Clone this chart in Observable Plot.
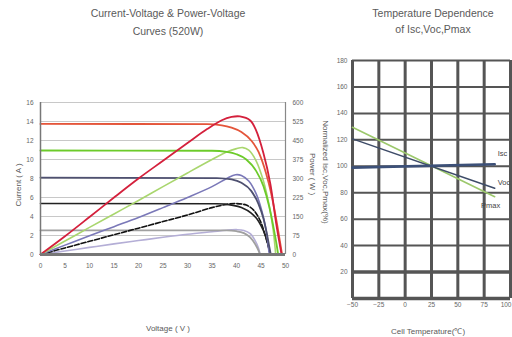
<!DOCTYPE html>
<html><head><meta charset="utf-8">
<script src="https://cdn.jsdelivr.net/npm/d3@7"></script>
<script src="https://cdn.jsdelivr.net/npm/@observablehq/plot@0.6"></script>
<style>
body{margin:0;background:#fff;}
#wrap{position:relative;width:512px;height:337px;overflow:hidden;font-family:"Liberation Sans",Arial,sans-serif;color:#5a5a5a;}
.t{position:absolute;white-space:nowrap;transform-origin:center center;}
#left,#right{position:absolute;top:0;}
#left{left:0;z-index:2}
#right{left:300px;z-index:1}
</style></head><body>
<div id="wrap">
  <div id="left"></div>
  <div id="right"></div>
  <div class="t" style="left:168px;top:13px;font-size:10.5px;transform:translate(-50%,-50%)">Current-Voltage &amp; Power-Voltage</div>
  <div class="t" style="left:168px;top:31px;font-size:10.5px;transform:translate(-50%,-50%)">Curves (520W)</div>
  <div class="t" style="left:433px;top:13px;font-size:10.5px;transform:translate(-50%,-50%)">Temperature Dependence</div>
  <div class="t" style="left:433px;top:29px;font-size:10.5px;transform:translate(-50%,-50%)">of Isc,Voc,Pmax</div>
  <div class="t" style="left:168px;top:328px;font-size:8px;transform:translate(-50%,-50%)">Voltage ( V )</div>
  <div class="t" style="left:18px;top:185px;font-size:8px;transform:translate(-50%,-50%) rotate(-90deg)">Current ( A )</div>
  <div class="t" style="left:312px;top:174px;font-size:8px;z-index:3;transform:translate(-50%,-50%) rotate(90deg)">Power ( W )</div>
  <div class="t" style="left:325px;top:172px;font-size:8px;z-index:3;transform:translate(-50%,-50%) rotate(90deg)">Normalized Isc,Voc,Pmax(%)</div>
  <div class="t" style="left:428px;top:330px;font-size:8px;transform:translate(-50%,-50%)">Cell Temperature(℃)</div>
</div>
<script>
// ---------- Left chart data ----------
const voltTicks = [0,5,10,15,20,25,30,35,40,45,50];
const currentTicks = [0,2,4,6,8,10,12,14,16];
const powerTicks = [0,75,150,225,300,375,450,525,600];

const ivRed = [[0,13.75],[34,13.72],[37,13.6],[39,13.35],[41,12.9],[43,12],[44.5,10.8],[46,8.6],[47,6.6],[48,4],[48.8,1.6],[49.3,0]];
const pvRed = [[0,0],[5,72],[10,148],[15,225],[20,300],[25,370],[30,440],[34,495],[37,530],[39,543],[40.7,545],[42.8,529],[44,490],[45.5,400],[46.9,280],[48.1,122],[49.2,0]];
const ivGreen = [[0,10.95],[35,10.92],[38,10.8],[40,10.55],[42,10],[44,8.8],[45.5,7.2],[46.7,5],[47.5,3],[48.2,1],[48.5,0]];
const pvGreen = [[0,0],[5,53],[10,107],[15,160],[20,213],[25,268],[30,322],[35,375],[38,405],[40,418],[41.3,422],[42.5,412],[44,370],[45.5,290],[46.7,190],[47.5,95],[48,0]];
const ivPurple = [[0,8.1],[36,8.05],[39,7.9],[41,7.55],[43,6.7],[44.5,5.3],[45.5,3.8],[46.2,2.2],[46.7,0.8],[47,0]];
const pvPurple = [[0,0],[5,37],[10,74],[15,110],[20,146],[25,185],[30,225],[35,268],[38,300],[39.8,315],[41,312],[42.5,290],[44,240],[45.2,170],[46,100],[46.7,0]];
const ivBlack = [[0,5.37],[36,5.34],[39,5.2],[41,4.95],[43,4.35],[44.5,3.5],[45.5,2.5],[46.3,1.3],[46.9,0]];
const pvBlack = [[0,0],[5,26],[10,52],[15,78],[20,104],[25,130],[30,156],[35,185],[38,198],[40,201],[42,195],[43.5,175],[44.8,135],[45.8,80],[46.5,30],[46.9,0]];
const ivGray = [[0,2.55],[38,2.53],[40,2.45],[41.5,2.25],[42.8,1.8],[43.8,1.1],[44.5,0.4],[44.8,0]];
const pvGray = [[0,0],[5,14],[10,28],[15,42],[20,55],[25,68],[30,80],[35,90],[38,96],[40,98],[41.5,95],[42.8,82],[43.8,55],[44.5,25],[44.8,0]];

// ---------- Right chart data ----------
const tempTicks = [-50,-25,0,25,50,75,100];
const normTicks = [20,40,60,80,100,120,140,160,180];
const normGrid = [0,20,40,60,80,100,120,140,160,180];
const tempEnds = [-50,85];
const iscVals = [99,101.5];
const vocVals = [120.7,83.4];
const pmaxVals = [129.5,77];
const seriesNames = ["Isc","Voc","Pmax"];

const font = "Liberation Sans, Arial, sans-serif";
const P2A = 16/600; // right axis (W) to left axis (A)

function ivLine(data, color, w=1.6, dash=null) {
  return Plot.line(data, {x: d=>d[0], y: d=>d[1], stroke: color, strokeWidth: w, strokeDasharray: dash, curve: "monotone-x"});
}
function pvLine(data, color, w=1.6, dash=null) {
  return Plot.line(data, {x: d=>d[0], y: d=>d[1]*P2A, stroke: color, strokeWidth: w, strokeDasharray: dash, curve: "catmull-rom"});
}

const left = Plot.plot({
  width: 330, height: 337,
  marginLeft: 40, marginRight: 45, marginTop: 102, marginBottom: 83,
  style: {fontSize: "6.5px", fontFamily: font, color: "#666", background: "transparent"},
  x: {domain: [0,50]},
  y: {domain: [0,16]},
  marks: [
    Plot.ruleY(currentTicks.filter(d=>d>0), {stroke: "#c8c8c8", strokeWidth: 1}),
    Plot.axisX({ticks: voltTicks, tickSize: 0, tickPadding: 9, label: null}),
    Plot.axisY({ticks: currentTicks, tickSize: 0, tickPadding: 7, label: null}),
    Plot.axisY({anchor: "right", ticks: currentTicks, tickSize: 0, tickPadding: 7, label: null,
      tickFormat: d => powerTicks[currentTicks.indexOf(d)]}),
    pvLine(pvGray, "#b4aed6", 1.6),
    ivLine(ivGray, "#a0a0a0", 1.8),
    pvLine(pvBlack, "#111", 1.6, "5,2"),
    ivLine(ivBlack, "#222", 1.6),
    pvLine(pvPurple, "#7a78b8", 1.6),
    ivLine(ivPurple, "#4e5070", 1.8),
    pvLine(pvGreen, "#a9d66e", 1.6),
    ivLine(ivGreen, "#6ccb2a", 1.8),
    ivLine(ivRed, "#e4553a", 1.8),
    pvLine(pvRed, "#d4203c", 1.8),
    Plot.ruleX([0], {stroke: "#777", strokeWidth: 1.5}),
    Plot.ruleX([50], {stroke: "#888", strokeWidth: 1.2}),
    Plot.ruleY([0], {stroke: "#777", strokeWidth: 3})
  ]
});
document.getElementById("left").appendChild(left);

const lineRows = (vals) => tempEnds.map((t,i)=>({t, v: vals[i]}));
const labelRows = [
  {name: seriesNames[0], t: tempEnds[1], v: iscVals[1], dx: 3, dy: -11, anchor: "start"},
  {name: seriesNames[1], t: tempEnds[1], v: vocVals[1], dx: 3, dy: -6, anchor: "start"},
  {name: seriesNames[2], t: tempEnds[1], v: pmaxVals[1], dx: -4, dy: 9, anchor: "middle"}
];

const right = Plot.plot({
  width: 212, height: 337,
  marginLeft: 52, marginRight: 2, marginTop: 60, marginBottom: 39,
  style: {fontSize: "6.5px", fontFamily: font, color: "#666", background: "transparent", overflow: "visible"},
  x: {domain: [-50,100]},
  y: {domain: [0,180]},
  marks: [
    Plot.ruleY(normGrid, {stroke: "#555", strokeWidth: 2}),
    Plot.ruleY([20,0], {stroke: "#555", strokeWidth: 3.5}),
    Plot.ruleX(tempTicks, {stroke: "#555", strokeWidth: 3}),
    Plot.axisX({ticks: tempTicks.slice(0,-1), tickSize: 0, tickPadding: 4, label: null}),
    Plot.axisX({ticks: tempTicks.slice(-1), tickSize: 0, tickPadding: 4, label: null, textAnchor: "end", dx: 1}),
    Plot.axisY({ticks: normTicks, tickSize: 0, tickPadding: 5, label: null}),
    Plot.line(lineRows(pmaxVals), {x: "t", y: "v", stroke: "#9cc86c", strokeWidth: 1.6}),
    Plot.line(lineRows(vocVals), {x: "t", y: "v", stroke: "#3e4c68", strokeWidth: 1.5}),
    Plot.line(lineRows(iscVals), {x: "t", y: "v", stroke: "#3c5078", strokeWidth: 2.6}),
    ...labelRows.map(r => Plot.text([r], {x: "t", y: "v", text: "name", dx: r.dx, dy: r.dy, textAnchor: r.anchor, fontSize: 7.5, fill: "#444"}))
  ]
});
document.getElementById("right").appendChild(right);
</script>
</body></html>
